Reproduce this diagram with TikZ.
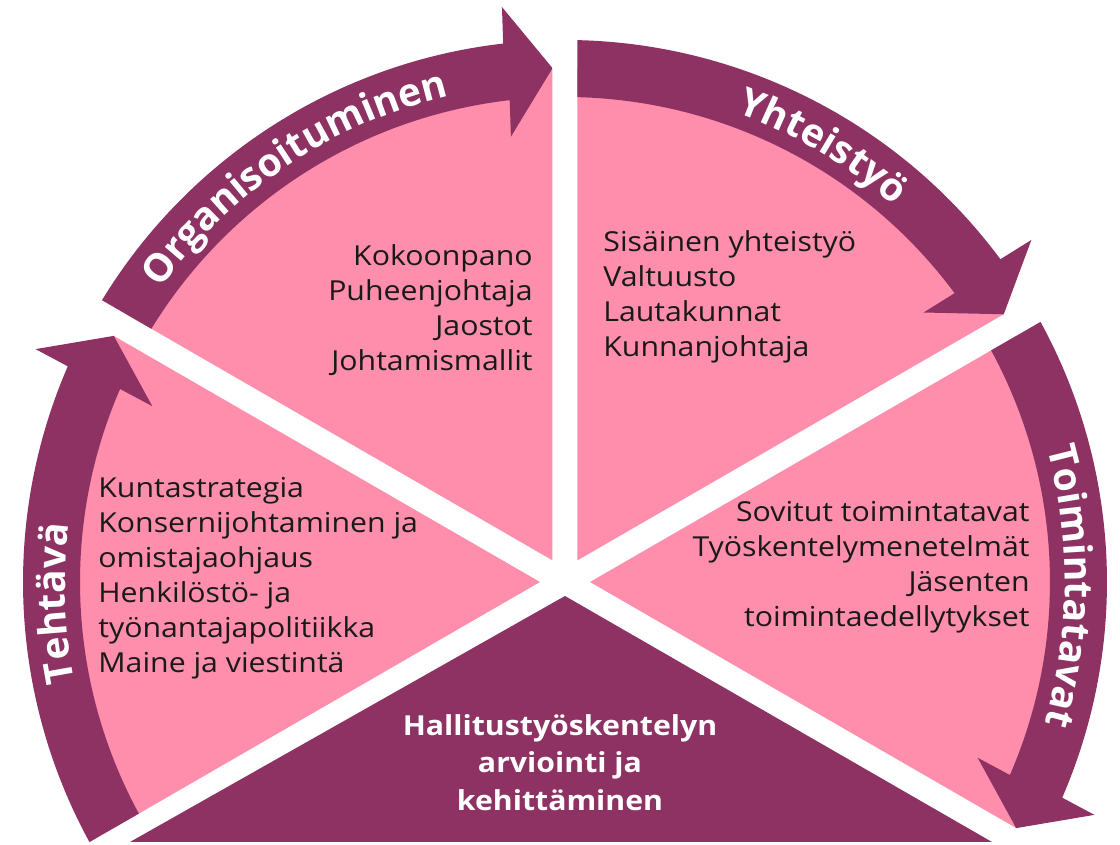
\documentclass[tikz,border=0pt]{standalone}
\usepackage{fontspec}
\usetikzlibrary{calc,decorations.text}
\newfontfamily\bodyfont[FakeStretch=1.1]{Open Sans}
\newfontfamily\arcfont{Open Sans}
\definecolor{pinkfill}{RGB}{254,142,172}
\definecolor{plum}{RGB}{141,50,99}
\definecolor{inkc}{RGB}{25,25,25}
\tikzset{
  bodytxt/.style={font=\bodyfont\fontsize{13.75pt}{17.5pt}\selectfont, text=inkc, inner sep=0pt},
  boldtxt/.style={font=\bodyfont\bfseries\fontsize{13.75pt}{18.75pt}\selectfont, text=white, inner sep=0pt},
  arclabel/.style={decorate, decoration={text along path, text align=center,
     text={|\arcfont\bfseries\fontsize{19.5pt}{20pt}\selectfont\color{white}|#1}}}
}
\begin{document}
\begin{tikzpicture}[x=0.5pt,y=0.5pt]
\useasboundingbox (-565,-263) rectangle (555,582);
% four sectors with their curved arrows
\foreach \t in {150,90,30,210} {
  \pgfmathsetmacro\h{\t-60}
  \pgfmathsetmacro\m{\t-30}
  \pgfmathsetmacro\tp{\h+1.39}
  \pgfmathsetmacro\b{\h+6.55}
  \pgfmathsetmacro\bb{\b-2.6}
  \pgfmathsetmacro\bbi{\b-2.6+180}
  \pgfmathsetmacro\te{\t+8}
  \begin{scope}
    \clip (\m:25) -- ($(\m:25)+(\t:720)$) -- ($(\m:25)+(\h:720)$) -- cycle;
    \fill[pinkfill] (0,0) circle[radius=514];
    \fill[plum] (\te:542) arc[start angle=\te, end angle=\b, radius=542]
      -- ($(\b:513.5)+(\bb:65)$) -- (\tp:514) -- ($(\b:513.5)+(\bbi:65)$)
      -- (\b:485) arc[start angle=\b, end angle=\te, radius=485] -- cycle;
  \end{scope}
}
% bottom triangle
\fill[plum] (0,-14) -- (-435,-260) -- (427,-260) -- cycle;
% arc labels
\path[arclabel=Organisoituminen] (153.75:500) arc[start angle=153.75, end angle=93.75, radius=500];
\path[arclabel=Yhteistyö] (89.4:500) arc[start angle=89.4, end angle=29.4, radius=500];
\path[arclabel=Toimintatavat] (29.5:500) arc[start angle=29.5, end angle=-30.5, radius=500];
\path[arclabel=Tehtävä] (212.4:500) arc[start angle=212.4, end angle=152.4, radius=500];
% texts
\node[bodytxt, anchor=east, align=right] (orgtxt) at (-32,272)
  {Kokoonpano\\Puheenjohtaja\\Jaostot\\Johtamismallit};
\node[bodytxt, anchor=west, align=left] (yhttxt) at (38,285.5)
  {Sisäinen yhteistyö\\Valtuusto\\Lautakunnat\\Kunnanjohtaja};
\node[bodytxt, anchor=west, align=left] (tehtxt) at (-467,3.5)
  {Kuntastrategia\\Konsernijohtaminen ja\\omistajaohjaus\\Henkilöstö- ja\\työnantajapolitiikka\\Maine ja viestintä};
\node[bodytxt, anchor=east, align=right] (toitxt) at (465,14.5)
  {Sovitut toimintatavat\\Työskentelymenetelmät\\Jäsenten\\toimintaedellytykset};
\node[boldtxt, align=center] (evaltxt) at (-5,-180.5)
  {Hallitustyöskentelyn\\arviointi ja\\kehittäminen};
\end{tikzpicture}
\end{document}
